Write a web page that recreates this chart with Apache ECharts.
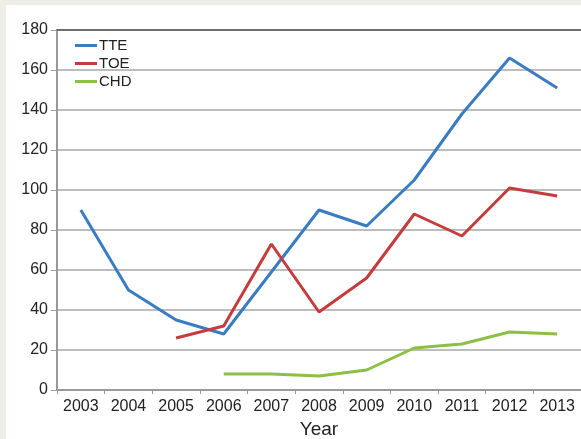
<!DOCTYPE html>
<html>
<head>
<meta charset="utf-8">
<script src="https://cdn.jsdelivr.net/npm/echarts@6/dist/echarts.min.js"></script>
<style>
  html, body { margin: 0; padding: 0; background: #efeee6; }
  #wrap { position: absolute; left: 6px; top: 5px; right: 0; bottom: 0; background: #fff; }
  #main { width: 581px; height: 439px; position: absolute; left: 0; top: 0; }
</style>
</head>
<body>
<div id="wrap"></div>
<div id="main"></div>
<script>
var years = ['2003', '2004', '2005', '2006', '2007', '2008', '2009', '2010', '2011', '2012', '2013'];
var tte = [90, 50, 35, 28, 59, 90, 82, 105, 138, 166, 151];
var toe = [null, null, 26, 32, 73, 39, 56, 88, 77, 101, 97];
var chd = [null, null, null, 8, 8, 7, 10, 21, 23, 29, 28];

var chart = echarts.init(document.getElementById('main'), null, { renderer: 'canvas' });

function line(name, data, color) {
  return {
    name: name,
    type: 'line',
    data: data,
    symbol: 'none',
    connectNulls: false,
    lineStyle: { color: color, width: 3 },
    itemStyle: { color: color }
  };
}

var option = {
  animation: false,
  textStyle: { fontFamily: 'Liberation Sans, Arial, sans-serif' },
  legend: {
    left: 70,
    top: 33,
    orient: 'vertical',
    itemWidth: 22,
    itemHeight: 3,
    itemGap: 3,
    icon: 'rect',
    textStyle: { fontSize: 15, color: '#222', padding: [0, 0, 0, -3] },
    data: ['TTE', 'TOE', 'CHD']
  },
  grid: { left: 57, right: 0, top: 30, bottom: 49, outerBoundsMode: 'none' },
  xAxis: [{
    type: 'category',
    data: years,
    boundaryGap: true,
    name: 'Year',
    nameLocation: 'middle',
    nameGap: 29,
    nameTextStyle: { fontSize: 19, color: '#222' },
    axisLine: { lineStyle: { color: '#999', width: 2 } },
    axisTick: { show: true, length: 4, lineStyle: { color: '#999' } },
    axisLabel: { fontSize: 16, color: '#222', margin: 9 }
  }, {
    type: 'category',
    data: years,
    position: 'top',
    axisLine: { lineStyle: { color: '#555', width: 1.5 } },
    axisTick: { show: false },
    axisLabel: { show: false }
  }],
  yAxis: {
    type: 'value',
    min: 0,
    max: 180,
    interval: 20,
    axisLine: { show: true, lineStyle: { color: '#999', width: 2 } },
    axisTick: { show: true, length: 6, lineStyle: { color: '#999' } },
    axisLabel: { fontSize: 16, color: '#222', margin: 9 },
    splitLine: { lineStyle: { color: '#bdbdbd', width: 2 } }
  },
  series: [
    line('TTE', tte, '#3a7cc3'),
    line('TOE', toe, '#c63b3b'),
    line('CHD', chd, '#8cbf45')
  ]
};
chart.setOption(option);
</script>
</body>
</html>
